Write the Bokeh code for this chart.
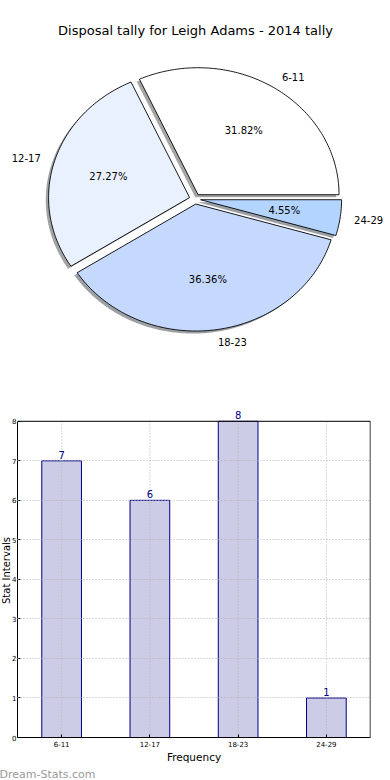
import numpy as np
from bokeh.plotting import figure
from bokeh.layouts import column
from bokeh.models import (Range1d, ColumnDataSource, Label, LabelSet, Title, Span,
                          FixedTicker, FactorRange)
from bokeh.core.properties import value
from bokeh.embed import file_html
from bokeh.resources import INLINE

# ---------------- data ----------------
title_text = "Disposal tally for Leigh Adams - 2014 tally"
categories = ["6-11", "12-17", "18-23", "24-29"]
counts = [7, 6, 8, 1]
pie_colors = ["#ffffff", "#eaf1fe", "#c5d9ff", "#b3d4ff"]
y_ticks = [0, 1, 2, 3, 4, 5, 6, 7, 8]
x_label = "Frequency"
y_label = "Stat Intervals"
watermark = "Dream-Stats.com"

FONT = "DejaVu Sans"

# ---------------- pie geometry (matplotlib-like) ----------------
explode = 0.04
shadow_off = -0.02
label_dist = 1.1
pct_dist = 0.6

total = float(sum(counts))
fracs = np.array(counts) / total
ends = np.cumsum(fracs) * 2 * np.pi
starts = np.concatenate([[0.0], ends[:-1]])

wx, wy, sx, sy, shadow_cols = [], [], [], [], []
lab_x, lab_y, lab_align = [], [], []
pct_x, pct_y, pct_txt = [], [], []
for a0, a1, c, f in zip(starts, ends, pie_colors, fracs):
    n = max(int(np.degrees(a1 - a0)) + 2, 6)
    t = np.linspace(a0, a1, n)
    mid = 0.5 * (a0 + a1)
    ox, oy = explode * np.cos(mid), explode * np.sin(mid)
    px = np.concatenate([[ox], ox + np.cos(t)])
    py = np.concatenate([[oy], oy + np.sin(t)])
    wx.append(list(px))
    wy.append(list(py))
    sx.append(list(px + shadow_off))
    sy.append(list(py + shadow_off))
    r = int(c[1:3], 16); g = int(c[3:5], 16); b = int(c[5:7], 16)
    shadow_cols.append("#%02x%02x%02x" % (int(r * 0.3), int(g * 0.3), int(b * 0.3)))
    lx = ox + label_dist * np.cos(mid)
    ly = oy + label_dist * np.sin(mid)
    lab_x.append(lx); lab_y.append(ly)
    lab_align.append("left" if lx > 0 else "right")
    pct_x.append(ox + pct_dist * np.cos(mid))
    pct_y.append(oy + pct_dist * np.sin(mid))
    pct_txt.append("%.2f%%" % (f * 100))

W1, H1 = 390, 392
cx_px, cy_px_top = 194.5, 198.5
rx_px, ry_px = 141.0, 127.0

p1 = figure(width=W1, height=H1, output_backend="svg", toolbar_location=None,
            x_range=Range1d(-cx_px / rx_px, (W1 - cx_px) / rx_px),
            y_range=Range1d(-(H1 - cy_px_top) / ry_px, cy_px_top / ry_px),
            x_axis_type=None, y_axis_type=None, min_border=0, title=None)
p1.outline_line_color = None
p1.grid.visible = False

p1.patches(xs=sx, ys=sy, fill_color=shadow_cols, fill_alpha=0.5, line_color=None)
p1.patches(xs=wx, ys=wy, fill_color=pie_colors, line_color="black", line_width=0.9)

lab_src = ColumnDataSource(dict(x=lab_x, y=lab_y, t=categories, a=lab_align))
p1.text(x="x", y="y", text="t", text_align="a", text_baseline="middle",
        text_font=value(FONT), text_font_size="10px", text_color="black",
        source=lab_src)
pct_src = ColumnDataSource(dict(x=pct_x, y=pct_y, t=pct_txt))
p1.text(x="x", y="y", text="t", text_align="center", text_baseline="middle",
        text_font=value(FONT), text_font_size="10px", text_color="black",
        source=pct_src)

p1.add_layout(Label(x=195, y=H1 - 30, x_units="screen", y_units="screen",
                    text=title_text, text_align="center", text_baseline="middle",
                    text_font=FONT, text_font_size="13px", text_color="black"))

# ---------------- bar chart ----------------
n_cat = len(categories)
bar_src = ColumnDataSource(dict(cat=categories, count=counts,
                                lbl=[str(v) for v in counts],
                                y0=[y_ticks[0]] * n_cat,
                                y1=[y_ticks[-1]] * n_cat))

H2 = 780 - H1
frame_top_pad = 0.45   # room above the top tick for the value label
p2 = figure(width=390, height=H2, output_backend="svg", toolbar_location=None,
            x_range=FactorRange(*categories, range_padding=0),
            y_range=Range1d(y_ticks[0], y_ticks[-1] + frame_top_pad),
            min_border_top=11, min_border_bottom=38, min_border_right=20,
            min_border_left=10)
p2.vbar(x="cat", top="count", width=0.45, source=bar_src,
        fill_color="#ccccE6", line_color="#000088", line_width=1)

# vertical dotted grid lines (bounded to the tick span)
p2.segment(x0="cat", y0="y0", x1="cat", y1="y1", source=bar_src,
           line_color="#b0b0b0", line_dash="1 2", line_width=1)
# right edge of the box
p2.segment(x0=[n_cat], y0=[y_ticks[0]], x1=[n_cat], y1=[y_ticks[-1]],
           line_color="black", line_width=1.5)

p2.outline_line_color = None
p2.xgrid.visible = False
p2.ygrid.grid_line_color = "#b0b0b0"
p2.ygrid.grid_line_dash = "1 2"
p2.ygrid.grid_line_width = 1
p2.ygrid.level = "guide"
p2.ygrid.ticker = FixedTicker(ticks=y_ticks)
p2.yaxis.ticker = FixedTicker(ticks=y_ticks)
p2.yaxis.bounds = (y_ticks[0], y_ticks[-1])

for ax in (p2.xaxis, p2.yaxis):
    ax.axis_line_color = "black"
    ax.major_tick_in = 3
    ax.major_tick_out = 0
    ax.minor_tick_line_color = None
    ax.major_label_text_font = FONT
    ax.major_label_text_font_size = "7px"
    ax.major_label_text_color = "black"
    ax.axis_label_text_font = FONT
    ax.axis_label_text_font_size = "10.5px"
    ax.axis_label_text_font_style = "normal"
    ax.axis_label_text_color = "black"
p2.xaxis.axis_label = x_label
p2.xaxis.major_label_standoff = 3
p2.xaxis.axis_label_standoff = 1
p2.yaxis.major_label_standoff = 1

p2.add_layout(Span(location=y_ticks[-1], dimension="width", line_color="black",
                   line_width=1))

p2.add_layout(LabelSet(x="cat", y="count", text="lbl", source=bar_src,
                       y_offset=2, text_align="center", text_baseline="bottom",
                       text_font=value(FONT), text_font_size="10px",
                       text_color="#000088"))

p2.add_layout(Title(text=y_label, align="center", offset=9, standoff=-4,
                    text_font=FONT, text_font_size="10px",
                    text_font_style="normal", text_color="black"), "left")

p2.add_layout(Title(text=watermark, align="left", offset=-18, standoff=0,
                    text_font=FONT, text_font_size="11px",
                    text_font_style="normal", text_color="#999999"), "below")

layout = column(column(p1), column(p2), spacing=0)
open("out.html", "w").write(file_html(layout, INLINE))
